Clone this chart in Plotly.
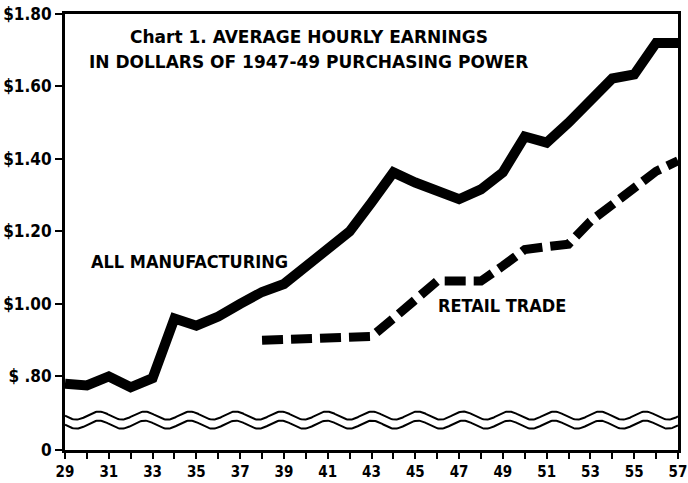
import numpy as np
import plotly.graph_objects as go

# ---- data ----
years_mfg = list(range(29, 58))
all_manufacturing = [0.78, 0.775, 0.80, 0.77, 0.795, 0.96, 0.94, 0.965, 1.00, 1.033,
                     1.055, 1.105, 1.157, 1.20, 1.28, 1.363, 1.335, 1.31, 1.289, 1.316,
                     1.363, 1.462, 1.445, 1.50, 1.558, 1.622, 1.633, 1.72, 1.72]
years_ret = list(range(38, 58))
retail_trade = [0.90, 0.903, 0.906, 0.908, 0.908, 0.91, 0.96, 1.01, 1.063, 1.063,
                1.063, 1.105, 1.15, 1.158, 1.165, 1.228, 1.275, 1.325, 1.366, 1.395]

y_tick_vals = [0.597, 0.80, 1.00, 1.20, 1.40, 1.60, 1.80]   # "0" sits at the axis break
y_tick_text = ["0", "$ .80", "$1.00", "$1.20", "$1.40", "$1.60", "$1.80"]
x_tick_vals = list(range(29, 58, 2))
x_tick_text = [str(v) for v in x_tick_vals]

TICKFONT = "DejaVu Sans Condensed, sans-serif"
LABFONT = "DejaVu Sans Condensed, sans-serif"
TITLEFONT = "DejaVu Sans, Liberation Sans, sans-serif"

fig = go.Figure()

# axis-break glyph (decoration, two wavy lines)
wx = np.linspace(29, 57, 600)
for base in (0.692, 0.667):
    wy = base + 0.011 * np.sin(2 * np.pi * (wx - 30.55) / 2.08 + np.pi / 2)
    fig.add_trace(go.Scatter(x=wx, y=wy, mode="lines", line=dict(color="black", width=2),
                             hoverinfo="skip", showlegend=False))

fig.add_trace(go.Scatter(x=years_mfg, y=all_manufacturing, mode="lines",
                         line=dict(color="black", width=10), name="All manufacturing",
                         showlegend=False))
fig.add_trace(go.Scatter(x=years_ret, y=retail_trade, mode="lines",
                         line=dict(color="black", width=9, dash="21px,8px"), name="Retail trade",
                         showlegend=False))

fig.add_annotation(x=30.1, y=1.118, xref="x", yref="y", text="ALL MANUFACTURING",
                   showarrow=False, xanchor="left", yanchor="middle",
                   font=dict(family=LABFONT, size=18, color="black", weight="bold"))
fig.add_annotation(x=45.95, y=0.997, xref="x", yref="y", text="RETAIL TRADE",
                   showarrow=False, xanchor="left", yanchor="middle",
                   font=dict(family=LABFONT, size=18, color="black", weight="bold"))

fig.add_annotation(x=0.398, y=0.9475, xref="paper", yref="paper",
                   text="Chart 1. AVERAGE HOURLY EARNINGS",
                   showarrow=False, xanchor="center", yanchor="middle",
                   font=dict(family=TITLEFONT, size=17, color="black", weight="bold"))
fig.add_annotation(x=0.398, y=0.890, xref="paper", yref="paper",
                   text="IN DOLLARS OF 1947-49 PURCHASING POWER",
                   showarrow=False, xanchor="center", yanchor="middle",
                   font=dict(family=TITLEFONT, size=17, color="black", weight="bold"))

fig.update_layout(
    width=688, height=483,
    margin=dict(l=65, r=10, t=14, b=33),
    paper_bgcolor="white", plot_bgcolor="white",
    showlegend=False,
)
fig.update_xaxes(
    range=[29, 57], tickvals=x_tick_vals, ticktext=x_tick_text, automargin=False,
    ticklabeloverflow="allow",
    ticks="outside", ticklen=6, tickwidth=2, tickcolor="black",
    minor=dict(dtick=1, tick0=29, ticks="outside", ticklen=6, tickwidth=2, tickcolor="black"),
    showline=True, linewidth=3, linecolor="black", mirror=True,
    showgrid=False, zeroline=False,
    tickfont=dict(family=TICKFONT, size=15, color="black", weight="bold"),
)
fig.update_yaxes(
    range=[0.597, 1.80], tickvals=y_tick_vals, ticktext=y_tick_text, automargin=False,
    ticklabeloverflow="allow",
    ticks="outside", ticklen=7, tickwidth=2, tickcolor="black",
    showline=True, linewidth=3, linecolor="black", mirror=True,
    showgrid=False, zeroline=False,
    tickfont=dict(family=TICKFONT, size=17, color="black", weight="bold"),
)

fig.write_html("out.html", config={"displayModeBar": False},
               post_script="document.body.style.margin='0px';document.body.style.overflow='hidden';")
